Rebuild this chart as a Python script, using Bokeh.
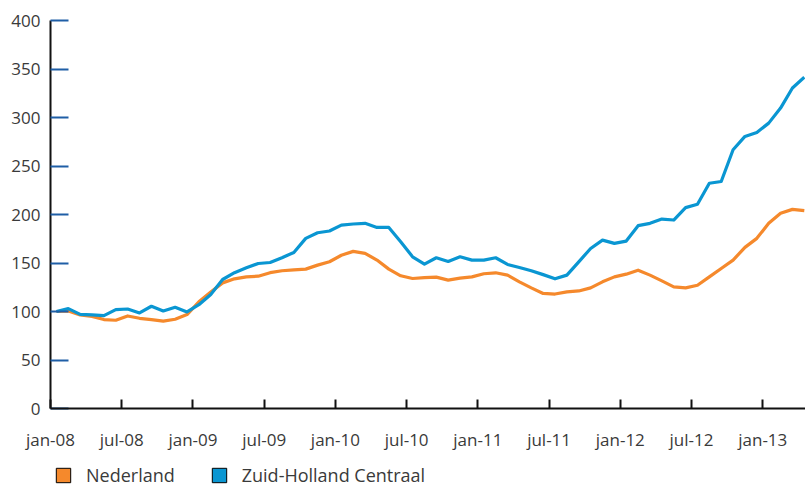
from bokeh.plotting import figure
from bokeh.layouts import column
from bokeh.models import Range1d, FixedTicker, Legend, LegendItem, ColumnDataSource
from bokeh.embed import file_html
from bokeh.resources import INLINE

# ---- data (monthly index, jan-2008 = 100) ----
month_names = ["jan", "feb", "mrt", "apr", "mei", "jun", "jul", "aug", "sep", "okt", "nov", "dec"]
months = [f"{m}-{y:02d}" for y in range(8, 14) for m in month_names][:64]  # jan-08 .. apr-13

nederland = [100.0, 100.5, 96.5, 95.0, 91.7, 91.0, 95.4, 93.0, 91.7, 90.0, 92.0, 96.8,
             110.0, 120.0, 129.5, 133.7, 135.7, 136.4, 140.0, 142.0, 143.0, 143.7, 147.8, 151.3,
             158.0, 162.0, 160.0, 153.0, 143.7, 136.8, 134.0, 135.0, 135.4, 132.4, 134.4, 135.7,
             138.9, 139.9, 137.5, 130.6, 124.4, 118.6, 118.0, 120.2, 121.2, 124.4, 130.6, 135.7,
             138.5, 142.6, 137.5, 131.6, 125.4, 124.4, 127.1, 135.7, 144.4, 153.0, 166.1, 175.4,
             190.9, 201.2, 205.3, 204.0]

zuid_holland = [100.0, 103.0, 97.0, 96.5, 95.8, 102.0, 102.6, 98.5, 105.4, 100.6, 104.4, 99.6,
                107.0, 117.5, 133.0, 140.0, 145.0, 149.5, 150.5, 155.5, 160.9, 175.4, 181.2, 183.0,
                189.1, 190.2, 190.9, 186.7, 186.7, 171.9, 156.4, 148.8, 155.4, 151.6, 156.4, 153.0,
                153.0, 155.4, 148.5, 145.4, 142.0, 138.0, 133.7, 137.5, 151.2, 165.0, 173.6, 170.2,
                172.6, 188.5, 190.9, 195.3, 194.3, 207.1, 210.5, 232.2, 234.0, 266.7, 280.5, 284.6,
                294.2, 309.7, 330.4, 341.5]

tick_positions = [0, 6, 12, 18, 24, 30, 36, 42, 48, 54, 60]
tick_labels = ["jan-08", "jul-08", "jan-09", "jul-09", "jan-10", "jul-10",
               "jan-11", "jul-11", "jan-12", "jul-12", "jan-13"]
y_ticks = [0, 50, 100, 150, 200, 250, 300, 350, 400]

series_names = ["Nederland", "Zuid-Holland Centraal"]
series_colors = ["#f5892c", "#0a96d2"]

# points sit in the middle of each month
x_pos = [i + 0.5 for i in range(len(months))]
source = ColumnDataSource(dict(x=x_pos, month=months, nl=nederland, zh=zuid_holland))

FONT = "Open Sans"
TXT = "#3a3a3a"

p = figure(width=805, height=455,
           x_range=Range1d(0, 63.6), y_range=Range1d(0, 400),
           output_backend="svg", toolbar_location=None,
           min_border_left=50, min_border_right=0, min_border_top=20, min_border_bottom=47)
p.outline_line_color = None
p.xgrid.grid_line_color = None
p.ygrid.grid_line_color = None

# lines
p.line("x", "nl", source=source, line_color=series_colors[0], line_width=3.2, line_join="round")
p.line("x", "zh", source=source, line_color=series_colors[1], line_width=3.2, line_join="round")

# x axis
xa = p.xaxis[0]
xa.ticker = FixedTicker(ticks=tick_positions)
xa.major_label_overrides = {t: l for t, l in zip(tick_positions, tick_labels)}
xa.axis_line_color = "#111111"
xa.axis_line_width = 2
xa.major_tick_line_color = "#111111"
xa.major_tick_line_width = 2
xa.major_tick_in = 9
xa.major_tick_out = 0
xa.minor_tick_line_color = None
xa.major_label_standoff = 19
xa.major_label_text_font = FONT
xa.major_label_text_font_size = "17px"
xa.major_label_text_color = TXT
xa.level = "overlay"

# y axis
ya = p.yaxis[0]
ya.ticker = FixedTicker(ticks=y_ticks)
ya.axis_line_color = "#111111"
ya.axis_line_width = 2
ya.major_tick_line_color = "#1f5ea6"
ya.major_tick_line_width = 2
ya.major_tick_in = 18
ya.major_tick_out = 0
ya.minor_tick_line_color = None
ya.major_label_standoff = 10
ya.major_label_text_font = FONT
ya.major_label_text_font_size = "17px"
ya.major_label_text_color = TXT

# ---- legend strip below the chart ----
# the strip's y range (0..1) keeps the swatch glyphs themselves out of view;
# only their legend squares are drawn
lg = figure(width=805, height=34, x_range=p.x_range, y_range=Range1d(0, 1),
            output_backend="svg", toolbar_location=None,
            x_axis_type=None, y_axis_type=None, min_border=0)
lg.outline_line_color = None
lg.xgrid.grid_line_color = None
lg.ygrid.grid_line_color = None
sw_nl = lg.rect("x", "nl", source=source, width=1, height=1,
                fill_color=series_colors[0], line_color="black", line_width=1)
sw_zh = lg.rect("x", "zh", source=source, width=1, height=1,
                fill_color=series_colors[1], line_color="black", line_width=1)

legend = Legend(items=[LegendItem(label=series_names[0], renderers=[sw_nl]),
                       LegendItem(label=series_names[1], renderers=[sw_zh])],
                location=(4, 2), orientation="horizontal",
                padding=0, margin=0, spacing=35,
                glyph_width=18, glyph_height=18, label_height=18, label_standoff=14,
                label_text_font=FONT, label_text_font_size="18px", label_text_color=TXT,
                border_line_color=None, background_fill_alpha=0)
lg.add_layout(legend)

open("out.html", "w").write(file_html(column(p, lg, spacing=0), INLINE))
